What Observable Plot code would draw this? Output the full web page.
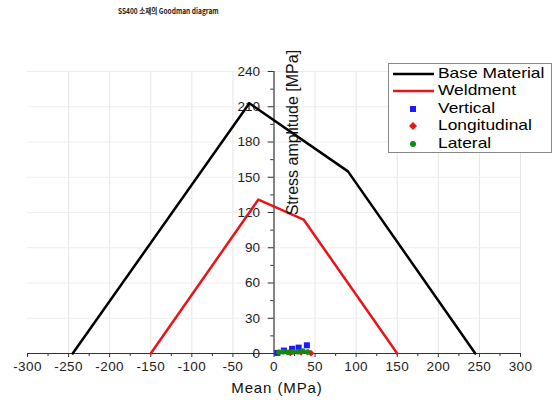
<!DOCTYPE html>
<html>
<head>
<meta charset="utf-8">
<script src="https://cdn.jsdelivr.net/npm/d3@7"></script>
<script src="https://cdn.jsdelivr.net/npm/@observablehq/plot@0.6"></script>
<style>
  body { margin: 0; background: #fff; font-family: Arial, "Liberation Sans", sans-serif; }
  #wrap { position: relative; width: 555px; height: 400px; }
  #title { height: 20px; line-height: 22px; padding-left: 118px; font-size: 8px; font-weight: bold; font-family: "Noto Sans CJK KR", sans-serif; color: #222; }
  #title span { display: inline-block; transform: scaleX(0.82); transform-origin: left center; white-space: nowrap; }
  #legend { position: absolute; left: 388px; top: 63px; width: 162px; height: 88px; border: 1px solid #888; background: #fff; font-size: 14.5px; color: #000; }
  .row { position: absolute; left: 0; height: 17px; width: 162px; }
  .row span.t { position: absolute; left: 49px; top: 0; line-height: 17px; white-space: nowrap; transform: scaleX(1.2); transform-origin: left center; }
  .row svg { position: absolute; left: 4px; top: 0; }
  #chart svg g[aria-label="x-axis tick label"] text { letter-spacing: 0.4px; }
</style>
</head>
<body>
<div id="wrap">
  <div id="title"><span>SS400 소재의 Goodman diagram</span></div>
  <div id="chart"></div>
  <div id="legend"></div>
</div>
<script>
// ---- data ----
const baseMean = [-245, -30, 90, 245];
const baseAmp = [0, 213, 155, 0];
const weldMean = [-150, -19, 36, 150];
const weldAmp = [0, 131, 114, 0];
const verticalMean = [4, 12, 22, 30, 40];
const verticalAmp = [0.5, 2.5, 4, 5, 7];
const longMean = [20, 33, 45];
const longAmp = [0.5, 1, 0.3];
const lateralMean = [6, 11, 17, 23, 29, 35, 41];
const lateralAmp = [1, 1.5, 1, 1.5, 1.5, 2, 1.2];
const xTicks = [-300, -250, -200, -150, -100, -50, 0, 50, 100, 150, 200, 250, 300];
const xMinor = [-275, -225, -175, -125, -75, -25, 25, 75, 125, 175, 225, 275];
const yTicks = [0, 30, 60, 90, 120, 150, 180, 210, 240];
const yMinor = [15, 45, 75, 105, 135, 165, 195, 225];
const legendLabels = ["Base Material", "Weldment", "Vertical", "Longitudinal", "Lateral"];
const colors = {base: "#000000", weld: "#e8141a", vertical: "#1a1aff", long: "#e8141a", lateral: "#128a12"};

const zip = (xs, ys) => xs.map((x, i) => ({x, y: ys[i]}));
const base = zip(baseMean, baseAmp);
const weld = zip(weldMean, weldAmp);
const vertical = zip(verticalMean, verticalAmp);
const longi = zip(longMean, longAmp);
const lateral = zip(lateralMean, lateralAmp);

const chart = Plot.plot({
  width: 555,
  height: 380,
  marginLeft: 27,
  marginRight: 35,
  marginTop: 51,
  marginBottom: 47,
  style: {fontFamily: "Arial, 'Liberation Sans', sans-serif", background: "#fff"},
  x: {domain: [-300, 300], axis: null},
  y: {domain: [0, 240], axis: null},
  marks: [
    // grid
    Plot.ruleX(xTicks.filter(d => d !== 0 && d !== -300), {y1: 0, y2: 240, stroke: "#e6e6e6", strokeWidth: 1}),
    Plot.ruleY(yTicks.filter(d => d !== 0), {x1: -300, x2: 300, stroke: "#eeeeee", strokeWidth: 1}),
    // x axis
    Plot.ruleY([0], {x1: -300, x2: 300, stroke: "#333", strokeWidth: 1.2}),
    Plot.axisX(xTicks, {tickSize: 4, tickPadding: 4, fontSize: 13.5, stroke: "#333", color: "#222", label: null, tickFormat: d => String(d)}),
    Plot.axisX(xMinor, {tickSize: 3, tickFormat: () => "", stroke: "#333", label: null}),
    // y axis at x = 0
    Plot.ruleX([0], {y1: 0, y2: 240, stroke: "#333", strokeWidth: 1.2}),
    Plot.ruleY(yTicks, {y: d => d, x1: -7, x2: 0, stroke: "#333"}),
    Plot.ruleY(yMinor, {y: d => d, x1: -4, x2: 0, stroke: "#333"}),
    Plot.text(yTicks, {x: 0, y: d => d, text: d => String(d), dx: -14, textAnchor: "end", fontSize: 13.5, fill: "#222"}),
    // lines
    Plot.line(base, {x: "x", y: "y", stroke: colors.base, strokeWidth: 2.5}),
    Plot.line(weld, {x: "x", y: "y", stroke: colors.weld, strokeWidth: 2.5}),
    // points
    Plot.dot(vertical, {x: "x", y: "y", symbol: "square", r: 3.4, fill: colors.vertical, stroke: null}),
    Plot.dot(longi, {x: "x", y: "y", symbol: "diamond2", r: 3, fill: colors.long, stroke: null}),
    Plot.dot(lateral, {x: "x", y: "y", symbol: "circle", r: 2.8, fill: colors.lateral, stroke: null}),
    // axis titles
    Plot.text(["Stress amplitude [MPa]"], {x: 0, y: 188, text: d => d, rotate: -90, dx: 19, fontSize: 16, fill: "#111"}),
    Plot.text(["Mean (MPa)"], {frameAnchor: "bottom", lineAnchor: "middle", dy: 35, dx: 3, text: d => d, fontSize: 15, fill: "#111", stroke: null})
  ]
});
document.getElementById("chart").appendChild(chart);
// widen the x-axis title slightly, like the reference's stretched lettering
d3.select(chart).selectAll("text").filter(function() { return this.textContent === "Mean (MPa)"; }).style("letter-spacing", "0.9px");

// legend
const legend = document.getElementById("legend");
const kinds = ["line", "line", "square", "diamond", "circle"];
const kcolors = [colors.base, colors.weld, colors.vertical, colors.long, colors.lateral];
legendLabels.forEach((lab, i) => {
  const row = document.createElement("div");
  row.className = "row";
  row.style.top = (1 + i * 17.4) + "px";
  let sym = "";
  if (kinds[i] === "line") sym = `<line x1="0" y1="9" x2="41" y2="9" stroke="${kcolors[i]}" stroke-width="2.5"/>`;
  else if (kinds[i] === "square") sym = `<rect x="17" y="6" width="6" height="6" fill="${kcolors[i]}"/>`;
  else if (kinds[i] === "diamond") sym = `<path d="M20 5 L24 9 L20 13 L16 9 Z" fill="${kcolors[i]}"/>`;
  else sym = `<circle cx="20" cy="9" r="3" fill="${kcolors[i]}"/>`;
  row.innerHTML = `<svg width="44" height="17">${sym}</svg><span class="t">${lab}</span>`;
  legend.appendChild(row);
});
</script>
</body>
</html>
